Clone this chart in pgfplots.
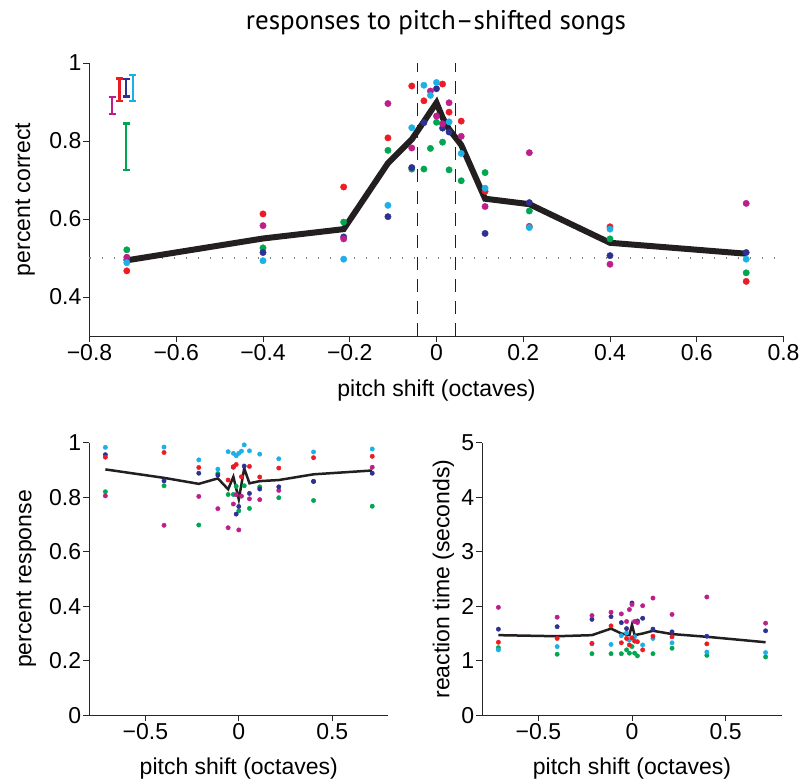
\documentclass[border=0pt]{standalone}
\usepackage{pgfplots}
\pgfplotsset{compat=1.18}
\usepackage{fontspec}
\setmainfont{Liberation Sans}
\newfontfamily\titlefont{PT Sans}
\definecolor{cred}{HTML}{ED1C24}
\definecolor{cmag}{HTML}{BE1E8C}
\definecolor{cblue}{HTML}{2E3192}
\definecolor{ccyan}{HTML}{1BB1E7}
\definecolor{cgreen}{HTML}{00A651}
\definecolor{cline}{HTML}{231F20}
\pgfplotsset{
  myaxis/.style={
    scale only axis,
    axis x line*=bottom, axis y line*=left,
    axis line style={-, line width=0.8pt, black!85},
    tick align=outside, major tick length=6pt,
    tick style={line width=0.8pt, black!85},
    tick label style={font=\fontsize{23}{26}\selectfont, inner sep=2pt},
    label style={font=\fontsize{23}{26}\selectfont},
    clip=false,
  },
  dots/.style={only marks, mark=*, mark size=#1, mark options={draw=none}},
  ebar/.style={line width=2.2pt, mark=-, mark size=3.5pt, mark options={line width=2.2pt}},
}
\begin{document}
\begin{tikzpicture}
\useasboundingbox (0pt,0pt) rectangle (804pt,784pt);
\node[anchor=base, font=\titlefont\fontsize{27}{30}\selectfont] at (436pt,754pt) {responses to pitch–shifted songs};
% ---------------- top ----------------
\begin{axis}[myaxis,
  at={(89.5pt,448pt)}, anchor=south west, width=694pt, height=273pt,
  xmin=-0.8, xmax=0.8, ymin=0.3, ymax=1,
  xtick={-0.8,-0.6,-0.4,-0.2,0,0.2,0.4,0.6,0.8},
  xticklabels={−0.8,−0.6,−0.4,−0.2,0,0.2,0.4,0.6,0.8},
  ytick={0.4,0.6,0.8,1}, yticklabels={0.4,0.6,0.8,1},
  xlabel={pitch shift (octaves)}, ylabel={percent correct},
  xlabel style={at={(axis description cs:0.5,0)}, anchor=center, yshift=-55pt},
  ylabel style={at={(axis description cs:0,0.5)}, anchor=center, yshift=64.5pt},
]
\addplot[gray, line width=1.5pt, dash pattern=on 1.8pt off 10.2pt] coordinates {(-0.8,0.5) (0.8,0.5)};
\addplot[cline, line width=1.2pt, dash pattern=on 13pt off 9pt] coordinates {(-0.043,0.3) (-0.043,1)};
\addplot[cline, line width=1.2pt, dash pattern=on 13pt off 9pt] coordinates {(0.043,0.3) (0.043,1)};
\addplot[cgreen, dots=3.2pt] coordinates {(-0.714,0.521) (-0.40,0.526) (-0.214,0.592) (-0.112,0.776) (-0.057,0.728) (-0.029,0.728) (-0.014,0.781) (0,0.848) (0.014,0.797) (0.029,0.726) (0.057,0.698) (0.112,0.719) (0.214,0.6205) (0.40,0.549) (0.714,0.462)};
\addplot[cblue, dots=3.2pt] coordinates {(-0.714,0.495) (-0.40,0.514) (-0.214,0.554) (-0.112,0.606) (-0.057,0.732) (-0.029,0.847) (0,0.934) (0.014,0.833) (0.029,0.823) (0.112,0.563) (0.214,0.642) (0.40,0.506) (0.714,0.514)};
\addplot[cmag, dots=3.2pt] coordinates {(-0.714,0.502) (-0.40,0.583) (-0.214,0.549) (-0.112,0.896) (-0.057,0.782) (-0.014,0.928) (0,0.864) (0.014,0.844) (0.029,0.898) (0.057,0.812) (0.112,0.632) (0.214,0.770) (0.40,0.484) (0.714,0.640)};
\addplot[cred, dots=3.2pt] coordinates {(-0.714,0.467) (-0.40,0.613) (-0.214,0.682) (-0.112,0.808) (-0.057,0.941) (-0.029,0.903) (0.014,0.946) (0.029,0.874) (0.057,0.851) (0.112,0.671) (0.214,0.581) (0.40,0.580) (0.714,0.440)};
\addplot[ccyan, dots=3.2pt] coordinates {(-0.714,0.488) (-0.40,0.493) (-0.214,0.497) (-0.112,0.635) (-0.057,0.834) (-0.029,0.943) (-0.014,0.917) (0,0.950) (0.029,0.849) (0.057,0.768) (0.112,0.679) (0.214,0.578) (0.40,0.574) (0.714,0.497)};
\addplot[cline, line width=6pt, line join=miter, miter limit=3] coordinates {(-0.714,0.494) (-0.40,0.55) (-0.214,0.574) (-0.112,0.743) (-0.057,0.804) (-0.029,0.85) (-0.014,0.875) (0,0.898) (0.014,0.86) (0.029,0.83) (0.057,0.79) (0.112,0.652) (0.214,0.638) (0.40,0.539) (0.714,0.511)};
% error bars (low, high)
\addplot[cmag, ebar] coordinates {(-0.7475,0.869) (-0.7475,0.9136)};
\addplot[cred, ebar] coordinates {(-0.731,0.903) (-0.731,0.960)};
\addplot[cblue, ebar] coordinates {(-0.715,0.914) (-0.715,0.958)};
\addplot[ccyan, ebar] coordinates {(-0.700,0.902) (-0.700,0.970)};
\addplot[cgreen, ebar] coordinates {(-0.715,0.726) (-0.715,0.845)};
\end{axis}
% ---------------- bottom left ----------------
\begin{axis}[myaxis,
  at={(89.3pt,68.7pt)}, anchor=south west, width=299pt, height=272.6pt,
  xmin=-0.8, xmax=0.8, ymin=0, ymax=1,
  xtick={-0.5,0,0.5}, xticklabels={−0.5,0,0.5},
  ytick={0,0.2,0.4,0.6,0.8,1}, yticklabels={0,0.2,0.4,0.6,0.8,1},
  xlabel={pitch shift (octaves)}, ylabel={percent response},
  xlabel style={at={(axis description cs:0.5,0)}, anchor=center, yshift=-53.5pt},
  ylabel style={at={(axis description cs:0,0.5)}, anchor=center, yshift=63pt},
]
\addplot[cgreen, dots=2.2pt] coordinates {(-0.714,0.820) (-0.40,0.842) (-0.214,0.698) (-0.112,0.887) (-0.057,0.810) (-0.029,0.810) (-0.014,0.84) (0,0.750) (0.029,0.842) (0.057,0.759) (0.112,0.838) (0.214,0.798) (0.40,0.788) (0.714,0.767)};
\addplot[cmag, dots=2.2pt] coordinates {(-0.714,0.805) (-0.40,0.697) (-0.214,0.803) (-0.112,0.758) (-0.057,0.688) (-0.029,0.775) (-0.014,0.809) (0,0.68) (0.014,0.804) (0.057,0.794) (0.112,0.791) (0.214,0.825) (0.40,0.858) (0.714,0.910)};
\addplot[cblue, dots=2.2pt] coordinates {(-0.714,0.956) (-0.40,0.860) (-0.214,0.888) (-0.112,0.881) (-0.029,0.910) (-0.014,0.738) (0,0.766) (0.029,0.914) (0.057,0.814) (0.112,0.830) (0.214,0.838) (0.40,0.858) (0.714,0.888)};
\addplot[cred, dots=2.2pt] coordinates {(-0.714,0.947) (-0.40,0.964) (-0.214,0.909) (-0.057,0.863) (-0.029,0.912) (-0.014,0.920) (0.014,0.875) (0.057,0.913) (0.112,0.874) (0.214,0.907) (0.40,0.945) (0.714,0.950)};
\addplot[ccyan, dots=2.2pt] coordinates {(-0.714,0.983) (-0.40,0.984) (-0.214,0.937) (-0.112,0.903) (-0.057,0.967) (-0.029,0.961) (-0.014,0.952) (0,0.961) (0.014,0.969) (0.029,0.992) (0.057,0.970) (0.112,0.958) (0.214,0.941) (0.40,0.966) (0.714,0.977)};
\addplot[cline, line width=2.5pt] coordinates {(-0.714,0.902) (-0.40,0.871) (-0.214,0.849) (-0.112,0.869) (-0.057,0.829) (-0.029,0.875) (0,0.792) (0.029,0.906) (0.057,0.851) (0.112,0.859) (0.214,0.863) (0.40,0.884) (0.714,0.898)};
\end{axis}
% ---------------- bottom right ----------------
\begin{axis}[myaxis,
  at={(482.3pt,68.7pt)}, anchor=south west, width=299.4pt, height=272.6pt,
  xmin=-0.8, xmax=0.8, ymin=0, ymax=5,
  xtick={-0.5,0,0.5}, xticklabels={−0.5,0,0.5},
  ytick={0,1,2,3,4,5}, yticklabels={0,1,2,3,4,5},
  xlabel={pitch shift (octaves)}, ylabel={reaction time (seconds)},
  xlabel style={at={(axis description cs:0.5,0)}, anchor=center, yshift=-53.5pt},
  ylabel style={at={(axis description cs:0,0.5)}, anchor=center, yshift=39pt},
]
\addplot[cgreen, dots=2.2pt] coordinates {(-0.714,1.24) (-0.40,1.12) (-0.214,1.13) (-0.112,1.13) (-0.057,1.13) (-0.029,1.20) (-0.014,1.14) (0,1.26) (0.014,1.14) (0.029,1.09) (0.112,1.13) (0.214,1.23) (0.40,1.10) (0.714,1.07)};
\addplot[ccyan, dots=2.2pt] coordinates {(-0.714,1.20) (-0.40,1.26) (-0.214,1.31) (-0.112,1.30) (-0.057,1.46) (-0.029,1.51) (-0.014,1.38) (0.014,1.44) (0.057,1.29) (0.112,1.41) (0.214,1.33) (0.40,1.16) (0.714,1.15)};
\addplot[cred, dots=2.2pt] coordinates {(-0.714,1.34) (-0.40,1.41) (-0.214,1.32) (-0.112,1.64) (-0.057,1.33) (-0.029,1.41) (-0.014,1.29) (0,1.42) (0.014,1.36) (0.029,1.35) (0.057,1.20) (0.112,1.45) (0.214,1.44) (0.40,1.31)};
\addplot[cblue, dots=2.2pt] coordinates {(-0.714,1.58) (-0.40,1.625) (-0.214,1.76) (-0.112,1.81) (-0.057,1.70) (-0.029,1.59) (0,2.06) (0.029,1.73) (0.057,1.78) (0.112,1.58) (0.214,1.53) (0.40,1.45) (0.714,1.55)};
\addplot[cmag, dots=2.2pt] coordinates {(-0.714,1.98) (-0.40,1.80) (-0.214,1.83) (-0.112,1.89) (-0.057,1.86) (-0.029,1.72) (-0.014,1.94) (0,2.03) (0.014,1.72) (0.029,1.70) (0.057,2.01) (0.112,2.15) (0.214,1.85) (0.40,2.17) (0.714,1.69)};
\addplot[cline, line width=2.5pt] coordinates {(-0.714,1.47) (-0.40,1.45) (-0.214,1.47) (-0.112,1.59) (-0.057,1.50) (-0.014,1.47) (0,1.66) (0.014,1.47) (0.057,1.50) (0.112,1.55) (0.214,1.49) (0.40,1.44) (0.714,1.34)};
\end{axis}
\end{tikzpicture}
\end{document}
